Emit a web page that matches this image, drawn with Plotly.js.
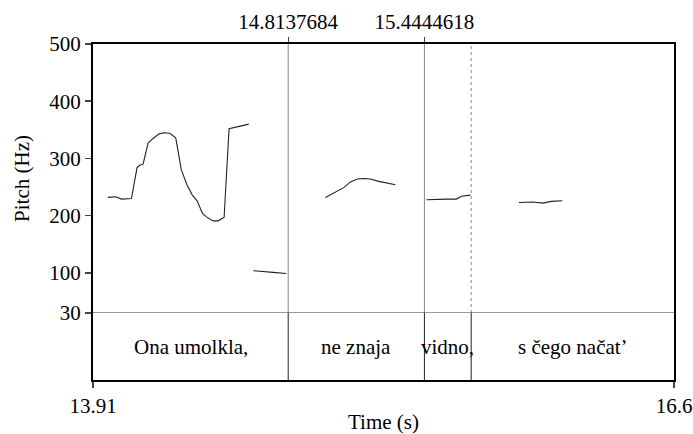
<!DOCTYPE html>
<html>
<head>
<meta charset="utf-8">
<script src="https://cdn.plot.ly/plotly-3.0.1.min.js"></script>
<style>html,body{margin:0;padding:0;background:#fff}#chart{width:693px;height:434px}
#chart text{font-family:'Liberation Serif','Times New Roman',serif !important}</style>
</head>
<body>
<div id="chart"></div>
<script>
// Pitch contour segments (time in s, pitch in Hz)
var seg1Time = [13.979,14.015,14.042,14.065,14.088,14.114,14.126,14.142,14.165,14.188,14.216,14.237,14.265,14.293,14.304,14.319,14.345,14.370,14.392,14.417,14.435,14.466,14.489,14.504,14.517,14.540,14.558,14.597,14.631];
var seg1Hz   = [232,233,229,229,230,284,288,290,327,335,343,345,344,336,309,280,254,236,226,204,198,191,191,194,197,352,354,357,360];
var seg2Time = [14.654,14.697,14.743,14.805];
var seg2Hz   = [104,103,101,99];
var seg3Time = [14.986,15.024,15.071,15.102,15.134,15.163,15.194,15.233,15.272,15.310];
var seg3Hz   = [232,239,249,259,264,265,264,260,257,254];
var seg4Time = [15.454,15.500,15.546,15.592,15.616,15.657];
var seg4Hz   = [228,229,229,229,234,236];
var seg5Time = [15.882,15.917,15.947,15.993,16.032,16.083];
var seg5Hz   = [223,224,224,222,225,226];

// Tier
var tStart = 13.91, tEnd = 16.6;
var boundaries = [14.8137684, 15.4444618, 15.661];
var labeledBoundaries = [14.8137684, 15.4444618];
var boundaryLabels = ['14.8137684', '15.4444618'];
var intervalTexts = ['Ona umolkla,', 'ne znaja', 'vidno,', 's čego načat’'];
var yTicks = [30, 100, 200, 300, 400, 500];
var xTicks = [13.91, 16.6];
var xTickText = ['13.91', '16.6'];

var FONT = 'Liberation Serif';
var FS = 21;
var tierFrac = 67/336;

var segs = [[seg1Time,seg1Hz],[seg2Time,seg2Hz],[seg3Time,seg3Hz],[seg4Time,seg4Hz],[seg5Time,seg5Hz]];
var traces = segs.map(function(s){
  return {x:s[0], y:s[1], type:'scatter', mode:'lines', line:{color:'#222', width:1.1}, xaxis:'x', yaxis:'y', hoverinfo:'skip', showlegend:false};
});
traces.push({x:[tStart,tEnd], y:[null,null], type:'scatter', mode:'lines', xaxis:'x2', yaxis:'y', showlegend:false, hoverinfo:'skip'});
traces.push({x:[tStart,tEnd], y:[null,null], type:'scatter', mode:'lines', xaxis:'x', yaxis:'y2', showlegend:false, hoverinfo:'skip'});

var bounds = [tStart].concat(boundaries).concat([tEnd]);
var annotations = intervalTexts.map(function(t,i){
  return {x:(bounds[i]+bounds[i+1])/2, y:0.5, xref:'x', yref:'y2 domain', text:t, showarrow:false,
    font:{family:FONT, size:FS, color:'#000'}};
});

var shapes = [];
boundaries.forEach(function(b,i){
  shapes.push({type:'line', xref:'x', yref:'paper', x0:b, x1:b, y0:tierFrac, y1:1,
    line:{color:'#888', width:1, dash: i===2 ? 'dot' : 'solid'}});
  shapes.push({type:'line', xref:'x', yref:'paper', x0:b, x1:b, y0:0, y1:tierFrac,
    line:{color:'#222', width:1}});
});
shapes.push({type:'line', xref:'paper', yref:'y', x0:0, x1:1, y0:30, y1:30, line:{color:'#333', width:1}});

var layout = {
  width:693, height:434,
  margin:{l:93, r:19, t:44, b:54},
  paper_bgcolor:'#fff', plot_bgcolor:'#fff',
  font:{family:FONT, size:FS, color:'#000'},
  xaxis:{range:[tStart,tEnd], anchor:'y2', tickvals:xTicks, ticktext:xTickText, ticks:'outside', ticklen:6, tickwidth:1.5,
    showline:true, linewidth:2, linecolor:'#000', showgrid:false, zeroline:false,
    title:{text:'Time (s)', font:{family:FONT, size:FS}, standoff:2}, tickfont:{family:FONT, size:FS}},
  xaxis2:{range:[tStart,tEnd], overlaying:'x', side:'top', anchor:'y', tickvals:labeledBoundaries, ticktext:boundaryLabels,
    ticks:'outside', ticklen:5, tickwidth:1, showline:true, linewidth:2, linecolor:'#000', showgrid:false, zeroline:false,
    tickfont:{family:FONT, size:FS}},
  yaxis:{domain:[tierFrac,1], range:[30,500], tickvals:yTicks, ticks:'outside', ticklen:6, tickwidth:1.5,
    showline:true, linewidth:2, linecolor:'#000', mirror:true, showgrid:false, zeroline:false,
    title:{text:'Pitch (Hz)', font:{family:FONT, size:FS}, standoff:14}, tickfont:{family:FONT, size:FS}},
  yaxis2:{domain:[0,tierFrac], range:[0,1], showticklabels:false, ticks:'', showline:true, linewidth:2, linecolor:'#000',
    mirror:true, showgrid:false, zeroline:false},
  annotations:annotations,
  shapes:shapes,
  showlegend:false
};
Plotly.newPlot('chart', traces, layout, {staticPlot:true, displayModeBar:false});
</script>
</body>
</html>
